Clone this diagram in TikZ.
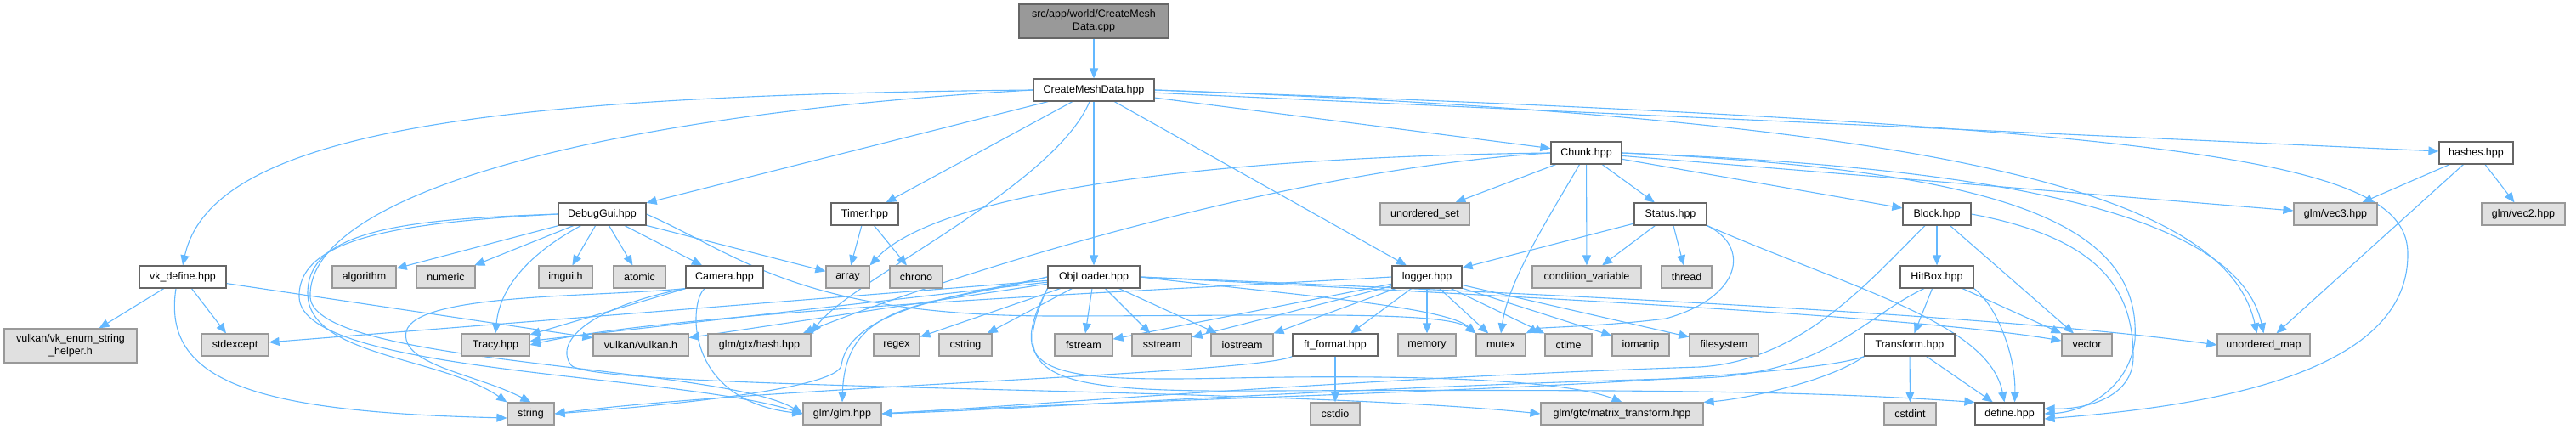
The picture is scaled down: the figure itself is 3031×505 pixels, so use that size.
\documentclass[tikz,border=0pt]{standalone}
\usepackage{fontspec}
\setmainfont{Liberation Sans}
\usetikzlibrary{arrows.meta}
\pgfdeclarelayer{background}
\pgfsetlayers{background,main}
\definecolor{edgec}{HTML}{63B8FF}
\definecolor{bordc}{HTML}{666666}
\definecolor{extb}{HTML}{999999}
\definecolor{extf}{HTML}{E0E0E0}
\definecolor{rootf}{HTML}{999999}
\begin{document}
\begin{tikzpicture}[x=1pt,y=-1pt,
  base/.style={rectangle, line width=1.2pt, inner sep=0pt, minimum height=26pt, font=\fontsize{12.5}{15}\selectfont, text=black, align=center},
  box/.style={base, draw=bordc, fill=white},
  ext/.style={base, draw=extb, fill=extf},
  rootbox/.style={base, draw=bordc, fill=rootf, minimum height=40pt},
  dep/.style={draw=edgec, line width=1.1pt, -{Triangle[length=12pt,width=10pt]}},
]
\useasboundingbox (0,0) rectangle (3031,505);
\node[rootbox, minimum width=176pt] (root) at (1287,25) {src/app/world/CreateMesh\\Data.cpp};
\node[box, minimum width=142pt] (cmd) at (1287,106) {CreateMeshData.hpp};
\node[box, minimum width=103pt] (dbg) at (708.5,252) {DebugGui.hpp};
\node[box, minimum width=79pt] (timer) at (1017.5,252) {Timer.hpp};
\node[box, minimum width=83pt] (chunk) at (1866.5,180) {Chunk.hpp};
\node[box, minimum width=87pt] (hashes) at (2913.5,180) {hashes.hpp};
\node[ext, minimum width=105pt] (uset) at (1676.5,252) {unordered\_set};
\node[box, minimum width=85pt] (status) at (1965.5,252) {Status.hpp};
\node[box, minimum width=80pt] (block) at (2279,252) {Block.hpp};
\node[ext, minimum width=98pt] (vec3) at (2748,252) {glm/vec3.hpp};
\node[ext, minimum width=98pt] (vec2) at (2969,252) {glm/vec2.hpp};
\node[box, minimum width=102pt] (vk) at (215,326) {vk\_define.hpp};
\node[ext, minimum width=75pt] (algo) at (428.5,326) {algorithm};
\node[ext, minimum width=69pt] (numeric) at (524.5,326) {numeric};
\node[ext, minimum width=63pt] (imgui) at (665.5,326) {imgui.h};
\node[ext, minimum width=61pt] (atomic) at (752.5,326) {atomic};
\node[box, minimum width=91pt] (camera) at (852.5,326) {Camera.hpp};
\node[ext, minimum width=51pt] (array) at (997.5,326) {array};
\node[ext, minimum width=62pt] (chrono) at (1078,326) {chrono};
\node[box, minimum width=108pt] (obj) at (1287,326) {ObjLoader.hpp};
\node[box, minimum width=82pt] (logger) at (1679,326) {logger.hpp};
\node[ext, minimum width=128pt] (condvar) at (1867,326) {condition\_variable};
\node[ext, minimum width=59pt] (thread) at (1984.5,326) {thread};
\node[box, minimum width=86pt] (hitbox) at (2279,326) {HitBox.hpp};
\node[ext, minimum width=156pt, minimum height=40pt] (vkenum) at (83,407) {vulkan/vk\_enum\_string\\\_helper.h};
\node[ext, minimum width=79pt] (stdexcept) at (276.5,406) {stdexcept};
\node[ext, minimum width=80pt] (tracy) at (583,406) {Tracy.hpp};
\node[ext, minimum width=112pt] (vulkanh) at (754,406) {vulkan/vulkan.h};
\node[ext, minimum width=121pt] (gtxhash) at (893.5,406) {glm/gtx/hash.hpp};
\node[ext, minimum width=54pt] (regex) at (1055,406) {regex};
\node[ext, minimum width=62pt] (cstring) at (1136,406) {cstring};
\node[ext, minimum width=68pt] (fstream) at (1275,406) {fstream};
\node[ext, minimum width=70pt] (sstream) at (1367,406) {sstream};
\node[ext, minimum width=73pt] (iostream) at (1461.5,406) {iostream};
\node[box, minimum width=100pt] (ftformat) at (1571,406) {ft\_format.hpp};
\node[ext, minimum width=68pt] (memory) at (1679,406) {memory};
\node[ext, minimum width=58pt] (mutex) at (1766,406) {mutex};
\node[ext, minimum width=55pt] (ctime) at (1845.5,406) {ctime};
\node[ext, minimum width=67pt] (iomanip) at (1930.5,406) {iomanip};
\node[ext, minimum width=81pt] (filesystem) at (2028.5,406) {filesystem};
\node[box, minimum width=106pt] (transform) at (2247,406) {Transform.hpp};
\node[ext, minimum width=59pt] (vector) at (2455.5,406) {vector};
\node[ext, minimum width=109pt] (umap) at (2663.5,406) {unordered\_map};
\node[ext, minimum width=55pt] (string) at (624.5,487) {string};
\node[ext, minimum width=92pt] (glm) at (991,487) {glm/glm.hpp};
\node[ext, minimum width=58pt] (cstdio) at (1571,487) {cstdio};
\node[ext, minimum width=191pt] (matrix) at (1908.5,487) {glm/gtc/matrix\_transform.hpp};
\node[ext, minimum width=61pt] (cstdint) at (2247.5,487) {cstdint};
\node[box, minimum width=81pt] (define) at (2364.5,487) {define.hpp};

\begin{pgfonlayer}{background}
\draw[dep] (root) -- (cmd);
% CreateMeshData.hpp
\draw[dep] (cmd.west) .. controls (600,112) and (250,150) .. (vk.north);
\draw[dep] (cmd) -- (dbg);
\draw[dep] (cmd) -- (timer);
\draw[dep] (cmd) -- (obj);
\draw[dep] (cmd) -- (logger);
\draw[dep] (cmd) -- (chunk);
\draw[dep] (cmd) -- (hashes);
\draw[dep] (cmd.east) .. controls (2300,140) and (2620,230) .. ([xshift=-8pt]umap.north);
\draw[dep] (cmd.east) .. controls (2600,150) and (2835,190) .. (2833,300) .. controls (2833,440) and (2600,478) .. ([yshift=-6pt]define.east);
\draw[dep] ([xshift=-5pt]cmd.south) .. controls (1240,220) and (1000,330) .. (gtxhash.north east);
\draw[dep] (cmd.west) .. controls (700,135) and (360,230) .. (365,350) .. controls (370,430) and (850,430) .. (glm.west);
% vk_define.hpp
\draw[dep] (vk) -- (vkenum);
\draw[dep] (vk) -- (stdexcept);
\draw[dep] (vk) -- (vulkanh);
\draw[dep] ([xshift=-8pt]vk.south) .. controls (190,450) and (300,485) .. ([yshift=-5pt]string.west);
% DebugGui.hpp
\draw[dep] (dbg) -- (algo);
\draw[dep] (dbg) -- (numeric);
\draw[dep] (dbg) -- (imgui);
\draw[dep] (dbg) -- (atomic);
\draw[dep] (dbg) -- (camera);
\draw[dep] (dbg) -- (array);
\draw[dep] ([xshift=-25pt]dbg.south) .. controls (620,300) and (588,340) .. (tracy.north);
\draw[dep] (dbg.west) .. controls (480,258) and (362,270) .. (362,345) .. controls (362,420) and (520,420) .. (string.north west);
\draw[dep] (dbg.west) .. controls (470,262) and (350,280) .. (352,350) .. controls (355,440) and (800,440) .. (glm.west);
\draw[dep] (dbg.east) .. controls (870,300) and (940,372) .. (1240,372) .. controls (1500,372) and (1700,365) .. (mutex.north west);
% Camera.hpp
\draw[dep] (camera) -- (tracy);
\draw[dep] (camera.south west) .. controls (700,350) and (490,345) .. (478,390) .. controls (470,430) and (560,440) .. (string.north);
\draw[dep] (camera) .. controls (812,350) and (800,470) .. (glm.west);
\draw[dep] (camera.south west) .. controls (700,360) and (650,400) .. (672,430) .. controls (700,460) and (1500,455) .. (matrix.west);
% Timer.hpp
\draw[dep] (timer) -- (array);
\draw[dep] (timer) -- (chrono);
% ObjLoader.hpp
\draw[dep] (obj) -- (stdexcept);
\draw[dep] (obj) -- (tracy);
\draw[dep] (obj) -- (vulkanh);
\draw[dep] (obj) -- (regex);
\draw[dep] (obj) -- (cstring);
\draw[dep] (obj) -- (fstream);
\draw[dep] (obj) -- (sstream);
\draw[dep] (obj) -- (iostream);
\draw[dep] (obj.west) .. controls (1100,360) and (995,350) .. (glm.north);
\draw[dep] (obj.west) .. controls (1150,345) and (1000,360) .. (990,430) .. controls (985,460) and (750,480) .. (string.east);
\draw[dep] (obj.east) .. controls (1800,345) and (2350,370) .. (umap.west);
\draw[dep] (obj.east) .. controls (1800,350) and (2250,372) .. ([yshift=5pt]vector.west);
\draw[dep] (obj.east) .. controls (1500,345) and (1700,360) .. (mutex.north west);
\draw[dep] (obj.south west) .. controls (1180,440) and (1230,450) .. (1450,445) .. controls (1700,440) and (1850,450) .. (matrix.north);
\draw[dep] (obj.south west) .. controls (1180,450) and (1240,462) .. (1500,460) .. controls (2000,458) and (2150,462) .. (define.north west);
% logger.hpp
\draw[dep] (logger) -- (ftformat);
\draw[dep] (logger) -- (memory);
\draw[dep] (logger) -- (mutex);
\draw[dep] (logger) -- (ctime);
\draw[dep] (logger) -- (iomanip);
\draw[dep] (logger) -- (filesystem);
\draw[dep] (logger) -- (fstream);
\draw[dep] (logger) -- (sstream);
\draw[dep] (logger) -- (iostream);
\draw[dep] (logger.west) .. controls (1400,340) and (800,365) .. (tracy.east);
% Chunk.hpp
\draw[dep] (chunk) -- (uset);
\draw[dep] (chunk) -- (status);
\draw[dep] (chunk) -- (condvar);
\draw[dep] (chunk) -- (block);
\draw[dep] (chunk) -- (vec3);
\draw[dep] (chunk.east) .. controls (2300,195) and (2630,240) .. (umap.north);
\draw[dep] (chunk.east) .. controls (2350,200) and (2520,260) .. (2512,400) .. controls (2505,460) and (2450,485) .. (define.east);
\draw[dep] ([xshift=-8pt]chunk.south) .. controls (1820,260) and (1775,330) .. (mutex.north);
\draw[dep] (chunk.west) .. controls (1400,185) and (1100,230) .. (array.north east);
\draw[dep] (chunk.west) .. controls (1500,200) and (1100,330) .. ([xshift=-10pt]gtxhash.north east);
% Status.hpp
\draw[dep] (status) -- (logger);
\draw[dep] (status) -- (condvar);
\draw[dep] (status) -- (thread);
\draw[dep] (status.south east) .. controls (2060,290) and (2050,350) .. (1960,375) .. controls (1880,385) and (1810,385) .. (mutex.north east);
\draw[dep] (status.south east) .. controls (2180,340) and (2340,380) .. ([xshift=-6pt]define.north);
% Block.hpp
\draw[dep] (block) -- (hitbox);
\draw[dep] (block) -- (vector);
\draw[dep] (block.east) .. controls (2470,280) and (2510,340) .. (2510,420) .. controls (2510,470) and (2450,482) .. ([yshift=6pt]define.east);
\draw[dep] ([xshift=-14pt]block.south) .. controls (2200,330) and (2120,425) .. (2000,432) .. controls (1600,445) and (1200,478) .. (glm.east);
% HitBox.hpp
\draw[dep] (hitbox) -- (transform);
\draw[dep] (hitbox) -- (vector);
\draw[dep] (hitbox.south east) .. controls (2350,360) and (2372,420) .. ([xshift=6pt]define.north);
\draw[dep] ([xshift=-15pt]hitbox.south) .. controls (2190,375) and (2150,440) .. (2000,445) .. controls (1600,455) and (1200,482) .. (glm.east);
% Transform.hpp
\draw[dep] (transform) -- (cstdint);
\draw[dep] (transform) -- (define);
\draw[dep] (transform.south west) .. controls (2100,455) and (1300,470) .. (glm.east);
\draw[dep] (transform.south west) .. controls (2150,450) and (2050,470) .. (matrix.north east);
% hashes.hpp
\draw[dep] (hashes) -- (vec3);
\draw[dep] (hashes) -- (vec2);
\draw[dep] (hashes) -- (umap);
% ft_format.hpp
\draw[dep] (ftformat) -- (cstdio);
\draw[dep] (ftformat.south west) .. controls (1480,440) and (900,455) .. (string.east);
\end{pgfonlayer}
\end{tikzpicture}
\end{document}
